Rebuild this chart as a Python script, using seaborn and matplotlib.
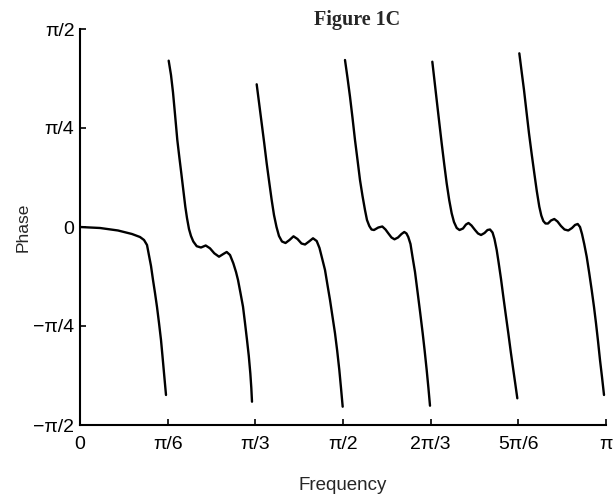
import numpy as np
import pandas as pd
import matplotlib
matplotlib.use('Agg')
import matplotlib.pyplot as plt
import seaborn as sns

# frequency and phase, both in units of pi
# every branch of the wrapped phase is kept in its own pair of lists
b1_f = [0.0, 0.0380, 0.0722, 0.0989, 0.1141, 0.1217, 0.1274, 0.1350, 0.1388,
        0.1426, 0.1464, 0.1502, 0.1540, 0.1568, 0.1597, 0.1635]
b1_p = [0.0, -0.0025, -0.0088, -0.0177, -0.0253, -0.0328, -0.0455, -0.0985, -0.1338,
        -0.1667, -0.2020, -0.2424, -0.2854, -0.3258, -0.3687, -0.4242]

b2_f = [0.1686, 0.1730, 0.1768, 0.1806, 0.1850, 0.1888, 0.1926, 0.1964, 0.2002, 0.2034,
        0.2072, 0.2110, 0.2154, 0.2219, 0.2300, 0.2390, 0.2471, 0.2553, 0.2643, 0.2724,
        0.2789, 0.2852, 0.2915, 0.2966, 0.3004, 0.3051, 0.3099, 0.3137, 0.3175, 0.3209,
        0.3238, 0.3257, 0.3270]
b2_p = [0.4200, 0.3838, 0.3400, 0.2850, 0.2197, 0.1768, 0.1356, 0.0934, 0.0513, 0.0227,
        -0.0051, -0.0227, -0.0366, -0.0485, -0.0518, -0.0467, -0.0538, -0.0664, -0.0750, -0.0682,
        -0.0631, -0.0707, -0.0917, -0.1136, -0.1338, -0.1667, -0.2013, -0.2424, -0.2854, -0.3258,
        -0.3694, -0.4066, -0.4412]

b3_f = [0.3359, 0.3407, 0.3454, 0.3502, 0.3549, 0.3597, 0.3644, 0.3688, 0.3736, 0.3783,
        0.3840, 0.3907, 0.3983, 0.4059, 0.4135, 0.4211, 0.4278, 0.4354, 0.4430, 0.4500,
        0.4553, 0.4601, 0.4658, 0.4705, 0.4753, 0.4800, 0.4848, 0.4890, 0.4930, 0.4962,
        0.4994]
b3_p = [0.3604, 0.3106, 0.2619, 0.2121, 0.1609, 0.1136, 0.0682, 0.0303, 0.0, -0.0227,
        -0.0366, -0.0404, -0.0328, -0.0235, -0.0303, -0.0417, -0.0442, -0.0366, -0.0285, -0.0354,
        -0.0530, -0.0783, -0.1086, -0.1465, -0.1843, -0.2260, -0.2684, -0.3131, -0.3611, -0.4066,
        -0.4538]

b4_f = [0.5038, 0.5086, 0.5133, 0.5181, 0.5228, 0.5276, 0.5323, 0.5371, 0.5418, 0.5456,
        0.5500, 0.5542, 0.5589, 0.5671, 0.5747, 0.5808, 0.5861, 0.5922, 0.5979, 0.6046,
        0.6112, 0.6165, 0.6207, 0.6241, 0.6283, 0.6325, 0.6369, 0.6420, 0.6468, 0.6515,
        0.6553, 0.6591, 0.6624, 0.6654]
b4_p = [0.4217, 0.3763, 0.3290, 0.2753, 0.2197, 0.1692, 0.1187, 0.0783, 0.0429, 0.0177,
        0.0025, -0.0063, -0.0076, -0.0013, 0.0013, -0.0063, -0.0159, -0.0265, -0.0311, -0.0265,
        -0.0177, -0.0126, -0.0164, -0.0253, -0.0429, -0.0783, -0.1136, -0.1667, -0.2172, -0.2684,
        -0.3131, -0.3611, -0.4066, -0.4513]

b5_f = [0.6698, 0.6740, 0.6781, 0.6829, 0.6876, 0.6924, 0.6971, 0.7019, 0.7066, 0.7110,
        0.7162, 0.7215, 0.7281, 0.7338, 0.7386, 0.7443, 0.7510, 0.7567, 0.7624, 0.7690,
        0.7747, 0.7795, 0.7843, 0.7880, 0.7922, 0.7957, 0.8004, 0.8048, 0.8095, 0.8143,
        0.8190, 0.8238, 0.8276, 0.8314]
b5_p = [0.4174, 0.3687, 0.3207, 0.2652, 0.2114, 0.1591, 0.1104, 0.0682, 0.0346, 0.0126,
        -0.0025, -0.0076, -0.0038, 0.0063, 0.0101, 0.0038, -0.0076, -0.0164, -0.0202, -0.0152,
        -0.0076, -0.0063, -0.0139, -0.0303, -0.0581, -0.0884, -0.1313, -0.1760, -0.2222, -0.2684,
        -0.3157, -0.3611, -0.3965, -0.4326]

b6_f = [0.8352, 0.8397, 0.8441, 0.8489, 0.8536, 0.8587, 0.8637, 0.8684, 0.8732, 0.8770,
        0.8808, 0.8850, 0.8897, 0.8954, 0.9017, 0.9078, 0.9144, 0.9211, 0.9283, 0.9354,
        0.9411, 0.9462, 0.9506, 0.9544, 0.9586, 0.9633, 0.9681, 0.9728, 0.9772, 0.9810,
        0.9848, 0.9886, 0.9924, 0.9962]
b6_p = [0.4386, 0.3914, 0.3460, 0.2904, 0.2366, 0.1843, 0.1356, 0.0909, 0.0513, 0.0290,
        0.0152, 0.0088, 0.0088, 0.0164, 0.0202, 0.0139, 0.0025, -0.0063, -0.0088, -0.0025,
        0.0051, 0.0076, 0.0, -0.0177, -0.0429, -0.0750, -0.1162, -0.1591, -0.2020, -0.2432,
        -0.2879, -0.3359, -0.3788, -0.4242]

x_ticks = [0, 1/6, 1/3, 1/2, 2/3, 5/6, 1]
x_labels = ['0', 'π/6', 'π/3', 'π/2', '2π/3', '5π/6', 'π']
y_ticks = [-1/2, -1/4, 0, 1/4, 1/2]
y_labels = ['\u2212π/2', '\u2212π/4', '0', 'π/4', 'π/2']

branches = [(b1_f, b1_p), (b2_f, b2_p), (b3_f, b3_p), (b4_f, b4_p), (b5_f, b5_p), (b6_f, b6_p)]
frames = []
for i, (f, p) in enumerate(branches):
    frames.append(pd.DataFrame({'freq': np.array(f) * np.pi,
                                'phase': np.array(p) * np.pi,
                                'branch': i}))
df = pd.concat(frames, ignore_index=True)

sns.set_style('ticks')
plt.rcParams['font.family'] = ['Liberation Sans', 'DejaVu Sans']

fig = plt.figure(figsize=(6.13, 4.96), dpi=100)
ax = fig.add_axes([80/613, 71/496, 526/613, 396/496])

sns.lineplot(data=df, x='freq', y='phase', units='branch', estimator=None,
             sort=False, color='black', linewidth=1.7, ax=ax)

ax.set_xlim(0, np.pi)
ax.set_ylim(-np.pi/2, np.pi/2)
ax.set_xticks(np.array(x_ticks) * np.pi)
ax.set_xticklabels(x_labels)
ax.set_yticks(np.array(y_ticks) * np.pi)
ax.set_yticklabels(y_labels)
ax.tick_params(axis='both', direction='in', length=4, width=1.2, labelsize=14, colors='black')
ax.tick_params(axis='x', pad=8)
ax.tick_params(axis='y', pad=4)

sns.despine(ax=ax)
for s in ['left', 'bottom']:
    ax.spines[s].set_linewidth(1.5)
    ax.spines[s].set_color('black')

ax.set_xlabel('Frequency', fontsize=13.5, labelpad=17)
ax.set_ylabel('Phase', fontsize=12.5, labelpad=2)

fig.text(357/613, 1 - 20/496, 'Figure 1C', ha='center', va='center',
         fontsize=14.5, fontweight='bold', family='Liberation Serif')

fig.savefig('out.png', dpi=100)
